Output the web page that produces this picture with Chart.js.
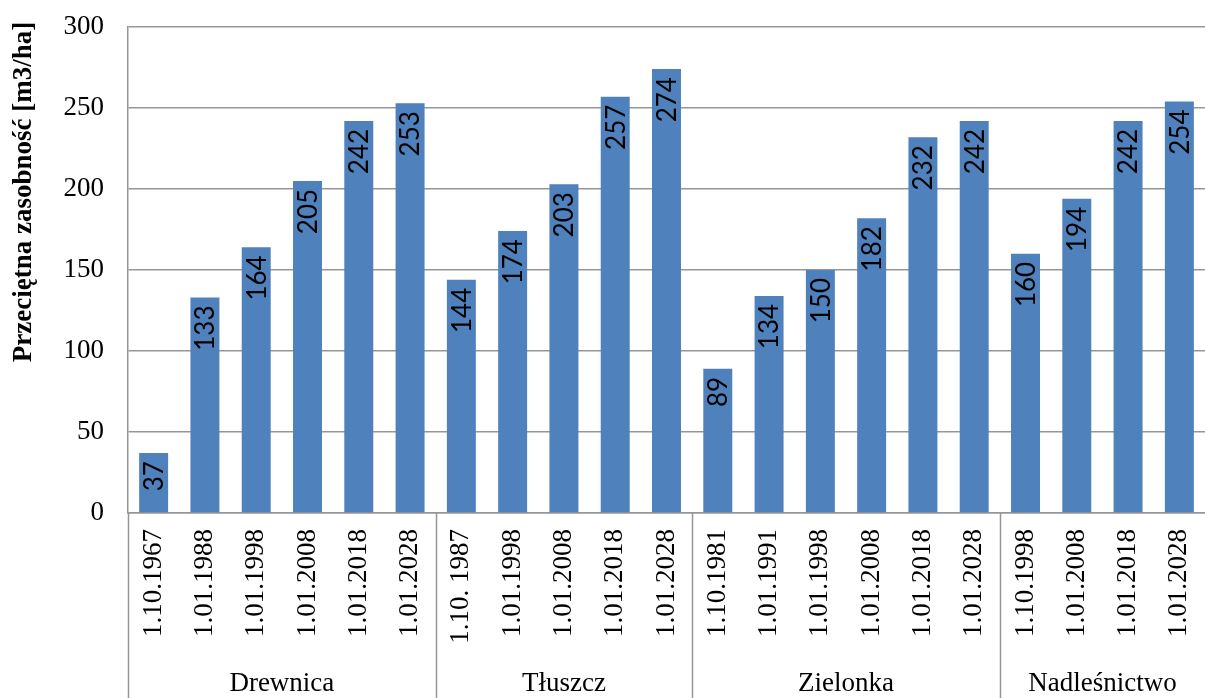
<!DOCTYPE html>
<html>
<head>
<meta charset="utf-8">
<script src="https://cdn.jsdelivr.net/npm/chart.js@4"></script>
<style>
    body { margin: 0; background: #fff; }
    #wrap { width: 1205px; height: 698px; position: relative; }
</style>
</head>
<body>
<div id="wrap"><canvas id="barChart"></canvas></div>
<script>
// Dates (categories), grouped by forest district
const dates = [
    '1.10.1967', '1.01.1988', '1.01.1998', '1.01.2008', '1.01.2018', '1.01.2028',
    '1.10. 1987', '1.01.1998', '1.01.2008', '1.01.2018', '1.01.2028',
    '1.10.1981', '1.01.1991', '1.01.1998', '1.01.2008', '1.01.2018', '1.01.2028',
    '1.10.1998', '1.01.2008', '1.01.2018', '1.01.2028'
];
const groups = ['Drewnica', 'Tłuszcz', 'Zielonka', 'Nadleśnictwo'];
const groupSizes = [6, 5, 6, 4];
const values = [
    37, 133, 164, 205, 242, 253,
    144, 174, 203, 257, 274,
    89, 134, 150, 182, 232, 242,
    160, 194, 242, 254
];
const yTicks = [0, 50, 100, 150, 200, 250, 300];
const yTitle = 'Przeciętna zasobność [m3/ha]';

const serif = '"Liberation Serif", "Times New Roman", serif';
const lineGray = '#969696';

// Value labels rotated inside the top of each bar
const barLabels = {
    id: 'barLabels',
    afterDatasetsDraw(chart) {
        const ctx = chart.ctx;
        const meta = chart.getDatasetMeta(0);
        ctx.save();
        ctx.fillStyle = '#000';
        ctx.font = '26px Lato, "Open Sans", sans-serif';
        ctx.textAlign = 'right';
        ctx.textBaseline = 'middle';
        meta.data.forEach((bar, i) => {
            ctx.save();
            ctx.translate(bar.x + 1, bar.y + 8);
            ctx.rotate(-Math.PI / 2);
            ctx.fillText(String(values[i]), 0, 0);
            ctx.restore();
        });
        ctx.restore();
    }
};

// Second level of the category axis: group names and separators, plus y title
const groupAxis = {
    id: 'groupAxis',
    afterDraw(chart) {
        const ctx = chart.ctx;
        const x = chart.scales.x;
        const area = chart.chartArea;
        const half = (x.getPixelForValue(1) - x.getPixelForValue(0)) / 2;
        ctx.save();
        ctx.strokeStyle = lineGray;
        ctx.lineWidth = 1.5;
        ctx.beginPath();
        ctx.moveTo(Math.round(area.left) + 0.5, area.bottom);
        ctx.lineTo(Math.round(area.left) + 0.5, chart.height);
        ctx.stroke();
        ctx.fillStyle = '#000';
        ctx.font = '27px ' + serif;
        ctx.textAlign = 'center';
        ctx.textBaseline = 'middle';
        let start = 0;
        groups.forEach((name, g) => {
            const end = start + groupSizes[g] - 1;
            const left = x.getPixelForValue(start) - half;
            const right = x.getPixelForValue(end) + half;
            if (g < groups.length - 1) {
                ctx.beginPath();
                ctx.moveTo(Math.round(right) + 0.5, area.bottom);
                ctx.lineTo(Math.round(right) + 0.5, chart.height);
                ctx.stroke();
            }
            ctx.fillText(name, (left + right) / 2, 684);
            start = end + 1;
        });

        // y axis title, placed like the original (above the plot centre)
        ctx.save();
        ctx.translate(24, 192);
        ctx.rotate(-Math.PI / 2);
        ctx.font = 'bold 27px ' + serif;
        ctx.fillText(yTitle, 0, 0);
        ctx.restore();
        ctx.restore();
    }
};

const ctx = document.getElementById('barChart').getContext('2d');
new Chart(ctx, {
    type: 'bar',
    data: {
        labels: dates,
        datasets: [{
            data: values,
            backgroundColor: '#4f81bd',
            borderWidth: 0,
            categoryPercentage: 1,
            barPercentage: 0.565
        }]
    },
    options: {
        responsive: true,
        maintainAspectRatio: false,
        animation: false,
        layout: { padding: { top: 27, right: 0, left: 0, bottom: 0 } },
        plugins: {
            legend: { display: false },
            tooltip: { enabled: false }
        },
        scales: {
            x: {
                grid: { display: false },
                border: { color: lineGray, width: 1.5 },
                ticks: {
                    color: '#000',
                    font: { family: serif, size: 27 },
                    maxRotation: 90,
                    minRotation: 90,
                    padding: 8,
                    autoSkip: false
                },
                afterFit: scale => {
                    scale.height = 185;
                    scale.paddingLeft = 0;
                    scale.paddingRight = 0;
                }
            },
            y: {
                min: 0,
                max: 300,
                afterBuildTicks: scale => { scale.ticks = yTicks.map(v => ({ value: v })); },
                grid: { color: lineGray, lineWidth: 1.5, drawTicks: false },
                border: { color: lineGray, width: 1.5 },
                ticks: {
                    color: '#000',
                    font: { family: serif, size: 27 },
                    padding: 24
                },
                afterFit: scale => {
                    scale.width = 128;
                    scale.paddingTop = 0;
                    scale.paddingBottom = 0;
                }
            }
        }
    },
    plugins: [barLabels, groupAxis]
});
</script>
</body>
</html>
